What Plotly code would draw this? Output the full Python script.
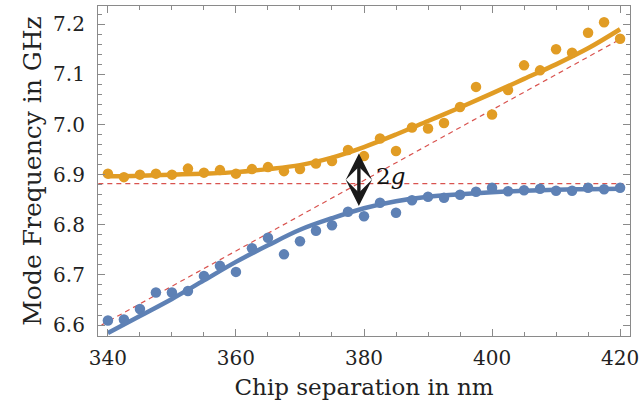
import plotly.graph_objects as go

# ---- data ----
separation_nm = [340.0, 342.5, 345.0, 347.5, 350.0, 352.5, 355.0, 357.5, 360.0, 362.5,
                 365.0, 367.5, 370.0, 372.5, 375.0, 377.5, 380.0, 382.5, 385.0, 387.5,
                 390.0, 392.5, 395.0, 397.5, 400.0, 402.5, 405.0, 407.5, 410.0, 412.5,
                 415.0, 417.5, 420.0]

upper_mode_ghz = [6.902, 6.895, 6.900, 6.902, 6.900, 6.912, 6.904, 6.909, 6.902, 6.911,
                  6.915, 6.907, 6.911, 6.922, 6.927, 6.949, 6.937, 6.972, 6.947, 6.994,
                  6.992, 7.003, 7.035, 7.075, 7.020, 7.069, 7.118, 7.108, 7.150, 7.143,
                  7.183, 7.204, 7.171]

lower_mode_ghz = [6.609, 6.611, 6.632, 6.665, 6.665, 6.668, 6.698, 6.718, 6.706, 6.753,
                  6.774, 6.741, 6.767, 6.788, 6.799, 6.826, 6.817, 6.844, 6.824, 6.849,
                  6.856, 6.854, 6.860, 6.866, 6.874, 6.867, 6.869, 6.872, 6.868, 6.868,
                  6.874, 6.871, 6.874]

fit_x = [340, 345, 350, 355, 360, 365, 370, 375, 380, 385, 390, 395, 400, 405, 410, 415, 420]
fit_upper = [6.897, 6.898, 6.900, 6.902, 6.905, 6.911, 6.919, 6.934, 6.955, 6.980,
             7.007, 7.034, 7.062, 7.091, 7.120, 7.152, 7.190]
fit_lower = [6.584, 6.618, 6.652, 6.689, 6.726, 6.759, 6.790, 6.813, 6.833, 6.847,
             6.856, 6.861, 6.865, 6.868, 6.870, 6.871, 6.872]

# uncoupled asymptotes
resonator_x = [338.5, 420.5]
resonator_y = [6.882, 6.882]
tunable_x = [339.0, 420.0]
tunable_y = [6.600, 7.170]

# coupling arrow (2g)
gap_x = 379.2
gap_top = 6.942
gap_bottom = 6.8345
gap_label_x = 384.2
gap_label_y = 6.897

x_ticks = [340, 360, 380, 400, 420]
y_ticks = [6.6, 6.7, 6.8, 6.9, 7.0, 7.1, 7.2]

BLUE = "#5E81B5"
ORANGE = "#E19C24"
RED = "#D9534F"
FRAME = "#8a8a8a"
TEXT = "#222222"
FONT = "DejaVu Serif"

fig = go.Figure()

for xs, ys in ((resonator_x, resonator_y), (tunable_x, tunable_y)):
    fig.add_trace(go.Scatter(x=xs, y=ys, mode="lines",
                             line=dict(color=RED, width=1.2, dash="5px,4px"),
                             hoverinfo="skip", showlegend=False))

fig.add_trace(go.Scatter(x=fit_x, y=fit_upper, mode="lines",
                         line=dict(color=ORANGE, width=4.5, shape="spline", smoothing=1.0),
                         showlegend=False))
fig.add_trace(go.Scatter(x=fit_x, y=fit_lower, mode="lines",
                         line=dict(color=BLUE, width=4.5, shape="spline", smoothing=1.0),
                         showlegend=False))
fig.add_trace(go.Scatter(x=separation_nm, y=upper_mode_ghz, mode="markers",
                         marker=dict(color=ORANGE, size=10.5), showlegend=False))
fig.add_trace(go.Scatter(x=separation_nm, y=lower_mode_ghz, mode="markers",
                         marker=dict(color=BLUE, size=10.5), showlegend=False))

fig.add_annotation(x=gap_x, y=gap_top, ax=gap_x, ay=gap_bottom,
                   xref="x", yref="y", axref="x", ayref="y",
                   text="", showarrow=True, arrowside="end+start",
                   arrowhead=3, startarrowhead=3, arrowwidth=3.4, arrowsize=1.3,
                   startarrowsize=1.3, arrowcolor="#1a1a1a")
fig.add_annotation(x=gap_label_x, y=gap_label_y, xref="x", yref="y",
                   text="2<i>g</i>", showarrow=False,
                   font=dict(family=FONT, size=23, color="#111111"))

axis_common = dict(showline=True, linecolor=FRAME, linewidth=1.2, mirror="allticks",
                   ticks="inside", tickcolor=FRAME, tickwidth=1, showgrid=False,
                   zeroline=False, tickfont=dict(family=FONT, size=20, color=TEXT))

fig.update_xaxes(range=[338.45, 421.55], tickvals=x_ticks, ticklen=7,
                 minor=dict(dtick=5, tick0=340, ticklen=4, ticks="inside", tickcolor=FRAME),
                 title=dict(text="Chip separation in nm", standoff=9,
                            font=dict(family=FONT, size=23, color=TEXT)),
                 ticklabelstandoff=4, **axis_common)
fig.update_yaxes(range=[6.5781, 7.2364], tickvals=y_ticks, tickformat=".1f", ticklen=7,
                 minor=dict(dtick=0.02, tick0=6.6, ticklen=4, ticks="inside", tickcolor=FRAME),
                 title=dict(text="Mode Frequency in GHz", standoff=4,
                            font=dict(family=FONT, size=25, color=TEXT)),
                 ticklabelstandoff=8, **axis_common)

fig.update_layout(width=644, height=409, margin=dict(l=98, r=10, t=5, b=73),
                  font=dict(family=FONT, color=TEXT),
                  paper_bgcolor="white", plot_bgcolor="white", showlegend=False)

fig.write_html("out.html")
